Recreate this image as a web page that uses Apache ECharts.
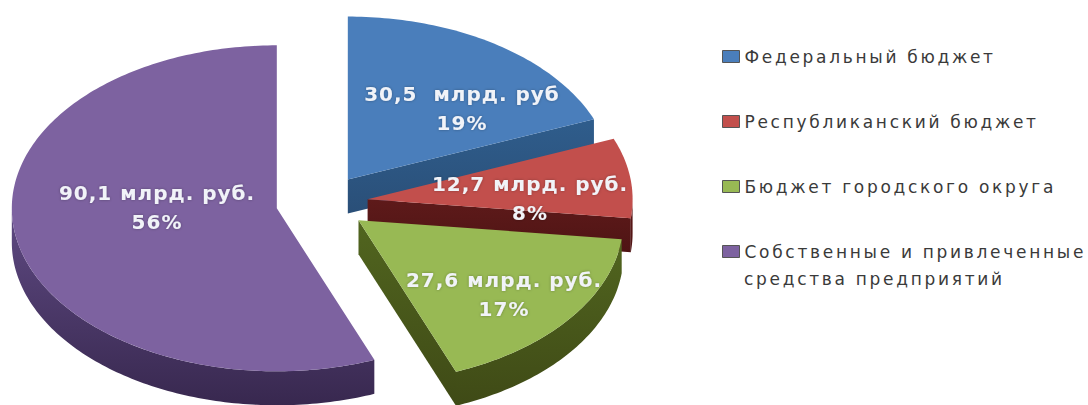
<!DOCTYPE html>
<html>
<head>
<meta charset="utf-8">
<style>
  html, body { margin: 0; padding: 0; background: #fff; }
  #main { width: 1088px; height: 405px; }
  #main text { letter-spacing: 2.7px; }
  #main text[style*="bold"] { letter-spacing: 1px; }
</style>
<script src="https://cdn.jsdelivr.net/npm/echarts@6/dist/echarts.min.js"></script>
</head>
<body>
<div id="main"></div>
<script>
// данные
const names = ['Федеральный бюджет', 'Республиканский бюджет', 'Бюджет городского округа', 'Собственные и привлеченные\nсредства предприятий']
const values = [30.5, 12.7, 27.6, 90.1]
const amountLabels = ['30,5  млрд. руб', '12,7 млрд. руб.', '27,6 млрд. руб.', '90,1 млрд. руб.']
const percentLabels = ['19%', '8%', '17%', '56%']

// оформление
const topColors = ['#4a7ebb', '#c24f4c', '#98b954', '#7d62a0']
const wallColors = [['#2f5d8c', '#2a4f78'], ['#5e1a1a', '#4f1414'], ['#51651f', '#3f4a16'], ['#5f4a83', '#38284f']]
const labelCenters = [[462, 108], [530, 198], [504, 294], [157, 207]]
const cx = 322, cy = 203, rx = 265, ry = 163, depth = 34, explode = 46

const total = values.reduce((a, b) => a + b, 0)
const rad = d => d * Math.PI / 180

// точка на эллипсе, угол по часовой от верха
function rim(ox, oy, deg) {
  return [ox + rx * Math.sin(rad(deg)), oy - ry * Math.cos(rad(deg))]
}

function arc(ox, oy, from, to) {
  let pts = []
  let n = Math.max(2, Math.ceil(Math.abs(to - from)))
  for (let i = 0; i <= n; i++) {
    pts.push(rim(ox, oy, from + (to - from) * i / n))
  }
  return pts
}

function makeSeries(i) {
  let before = values.slice(0, i).reduce((a, b) => a + b, 0)
  return {
    type: 'custom',
    name: names[i],
    coordinateSystem: 'none',
    silent: true,
    itemStyle: { color: topColors[i] },
    data: [[values[i]]],
    renderItem(params, api) {
      let start = before / total * 360
      let end = start + api.value(0) / total * 360
      let mid = (start + end) / 2
      let ox = cx + explode * Math.sin(rad(mid))
      let oy = cy - explode * (ry / rx) * Math.cos(rad(mid))
      let wallFill = { type: 'linear', x: 0, y: 0, x2: 0, y2: 1, colorStops: [
        { offset: 0, color: wallColors[i][0] }, { offset: 1, color: wallColors[i][1] }] }
      let children = []

      // боковая стенка по дуге, только нижняя половина эллипса
      let a = Math.max(start, 90), b = Math.min(end, 270)
      if (a < b) {
        let upper = arc(ox, oy, a, b)
        let lower = upper.map(p => [p[0], p[1] + depth]).reverse()
        children.push({ type: 'polygon', shape: { points: upper.concat(lower) }, style: { fill: wallFill } })
      }
      // срез, который смотрит на зрителя
      if (Math.sin(rad(end)) > 0.001) {
        let p = rim(ox, oy, end)
        children.push({ type: 'polygon', shape: { points: [[ox, oy], p, [p[0], p[1] + depth], [ox, oy + depth]] },
          style: { fill: wallFill } })
      }
      // верхняя грань
      children.push({ type: 'polygon', shape: { points: [[ox, oy]].concat(arc(ox, oy, start, end)) },
        style: { fill: topColors[i] } })
      // подпись
      children.push({ type: 'text', x: labelCenters[i][0], y: labelCenters[i][1], z2: 10, style: {
        text: amountLabels[i] + '\n' + percentLabels[i],
        fill: '#f1f3f8', align: 'center', verticalAlign: 'middle',
        font: 'bold 20px "DejaVu Sans"', lineHeight: 29,
        textShadowColor: 'rgba(0,0,0,0.3)', textShadowBlur: 3 } })
      return { type: 'group', children }
    }
  }
}

let option = {
  backgroundColor: '#fff',
  animation: false,
  legend: {
    left: 722,
    top: 48,
    padding: 0,
    orient: 'vertical',
    itemWidth: 17,
    itemHeight: 12,
    itemGap: 48,
    icon: 'rect',
    selectedMode: false,
    data: names.map((name, i) => ({ name, itemStyle: { color: topColors[i], borderColor: '#555', borderWidth: 1 } })),
    formatter: name => name.split('\n')[0],
    textStyle: { color: '#3a3a3a', fontFamily: 'DejaVu Sans', fontSize: 17 }
  },
  // вторая строка последнего пункта легенды идет ниже значка
  graphic: [{
    type: 'text',
    left: 744,
    top: 270,
    style: { text: names[3].split('\n')[1], fill: '#3a3a3a', font: '17px "DejaVu Sans"' }
  }],
  series: values.map((v, i) => makeSeries(i))
}

echarts.init(document.getElementById('main'), null, { renderer: 'svg' }).setOption(option)
</script>
</body>
</html>
